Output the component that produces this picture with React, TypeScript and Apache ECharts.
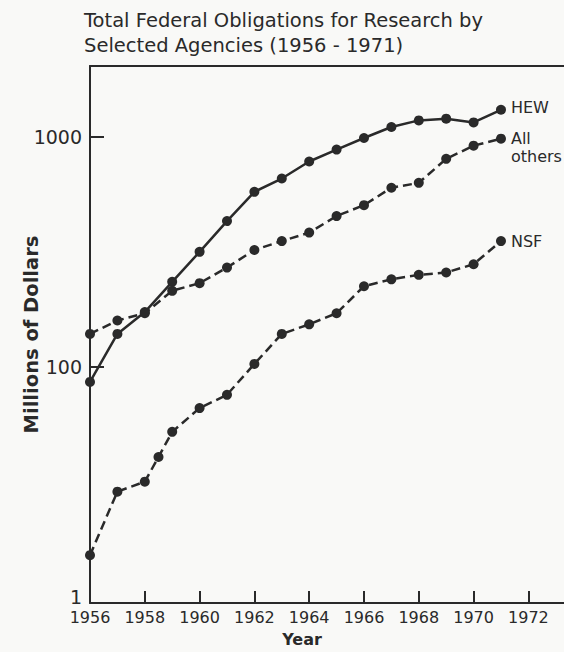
import React, { useEffect, useRef } from "react";
import * as echarts from "echarts";

const years = [1956, 1957, 1958, 1959, 1960, 1961, 1962, 1963, 1964, 1965, 1966, 1967, 1968, 1969, 1970, 1971];
const hew = [86, 139, 173, 234, 316, 430, 576, 658, 780, 879, 987, 1102, 1177, 1197, 1153, 1309];
const allOthers = [139, 159, 171, 214, 231, 270, 322, 352, 383, 452, 504, 600, 630, 801, 914, 980];
const nsfYears = [1956, 1957, 1958, 1958.5, 1959, 1960, 1961, 1962, 1963, 1964, 1965, 1966, 1967, 1968, 1969, 1970, 1971];
const nsf = [15.2, 28.7, 31.7, 40.6, 52.2, 66.2, 75.6, 103, 139, 153, 171, 224, 240, 251, 257, 279, 352];
const xTicks = [1956, 1958, 1960, 1962, 1964, 1966, 1968, 1970, 1972];
const yLabelValues = [10, 100, 1000];
const yTickValues = [100, 1000];
const yTickLabels = ["1", "100", "1000"];
const seriesNames = ["HEW", "All others", "NSF"];

const INK = "#2a2a2a";
const FONT = "DejaVu Sans";

function App() {
  const ref = useRef<HTMLDivElement>(null);
  useEffect(() => {
    if (!ref.current) return;
    const chart = echarts.init(ref.current, null, { renderer: "svg" });
    const endLabel = (text: string, offset: number[], lh: number) => ({
      show: true,
      position: "right",
      distance: 5,
      formatter: text,
      color: INK,
      fontFamily: FONT,
      fontSize: 16,
      lineHeight: lh,
      align: "left",
      offset,
    });
    const mk = (xs: number[], ys: number[], label: any) =>
      xs.map((x, i) =>
        i === xs.length - 1 ? { value: [x, ys[i]], label } : [x, ys[i]]
      );
    chart.setOption({
      animation: false,
      backgroundColor: "#f9f9f7",
      title: {
        text: "Total Federal Obligations for Research by\nSelected Agencies (1956 - 1971)",
        left: 79,
        top: 3,
        textStyle: {
          fontFamily: FONT,
          fontSize: 19.5,
          fontWeight: "normal",
          color: INK,
          lineHeight: 25,
        },
      },
      grid: { left: 90, right: 0, top: 66, bottom: 47, containLabel: false },
      xAxis: [
        {
          type: "value",
          min: 1956,
          max: 1973.3,
          interval: 2,
          name: "Year",
          nameLocation: "middle",
          nameGap: 28,
          nameTextStyle: {
            fontFamily: FONT,
            fontSize: 16,
            fontWeight: "bold",
            color: INK,
            padding: [0, 50, 0, 0],
          },
          axisLine: { show: true, lineStyle: { color: INK, width: 2 } },
          axisTick: {
            show: true,
            inside: true,
            length: 12,
            customValues: xTicks,
            lineStyle: { color: INK, width: 2 },
          },
          axisLabel: {
            customValues: xTicks,
            formatter: (v: number) => String(v),
            fontFamily: FONT,
            fontSize: 16,
            color: INK,
            margin: 6,
          },
          splitLine: { show: false },
        },
        {
          type: "value",
          position: "top",
          min: 1956,
          max: 1973.3,
          axisLine: { show: true, lineStyle: { color: INK, width: 2 } },
          axisTick: { show: false },
          axisLabel: { show: false },
          splitLine: { show: false },
        },
      ],
      yAxis: {
        type: "log",
        logBase: 10,
        min: 9.42,
        max: 2028,
        name: "Millions of Dollars",
        nameLocation: "middle",
        nameGap: 49,
        nameMoveOverlap: false,
        nameTextStyle: {
          fontFamily: FONT,
          fontSize: 19.5,
          fontWeight: "bold",
          color: INK,
        },
        axisLine: { show: true, lineStyle: { color: INK, width: 2 } },
        axisTick: {
          show: true,
          inside: true,
          length: 14,
          customValues: yTickValues,
          lineStyle: { color: INK, width: 2 },
        },
        axisLabel: {
          customValues: yLabelValues,
          formatter: (v: number) => yTickLabels[yLabelValues.indexOf(Math.round(v))] ?? String(v),
          fontFamily: FONT,
          fontSize: 19,
          color: INK,
          margin: 8,
        },
        splitLine: { show: false },
      },
      series: [
        {
          name: seriesNames[0],
          type: "line",
          data: mk(years, hew, endLabel("HEW", [0, -2], 16)),
          symbol: "circle",
          symbolSize: 10,
          lineStyle: { color: INK, width: 2.5, type: "solid" },
          itemStyle: { color: INK },
        },
        {
          name: seriesNames[1],
          type: "line",
          data: mk(years, allOthers, endLabel("All\nothers", [0, 9], 18)),
          symbol: "circle",
          symbolSize: 10,
          lineStyle: { color: INK, width: 2.5, type: [9, 5] },
          itemStyle: { color: INK },
        },
        {
          name: seriesNames[2],
          type: "line",
          data: mk(nsfYears, nsf, endLabel("NSF", [0, 0], 16)),
          symbol: "circle",
          symbolSize: 10,
          lineStyle: { color: INK, width: 2.5, type: [9, 5] },
          itemStyle: { color: INK },
        },
      ],
    });
    return () => chart.dispose();
  }, []);
  return (
    <div
      ref={ref}
      style={{ position: "fixed", left: 0, top: 0, width: 564, height: 652 }}
    />
  );
}

export default App;
